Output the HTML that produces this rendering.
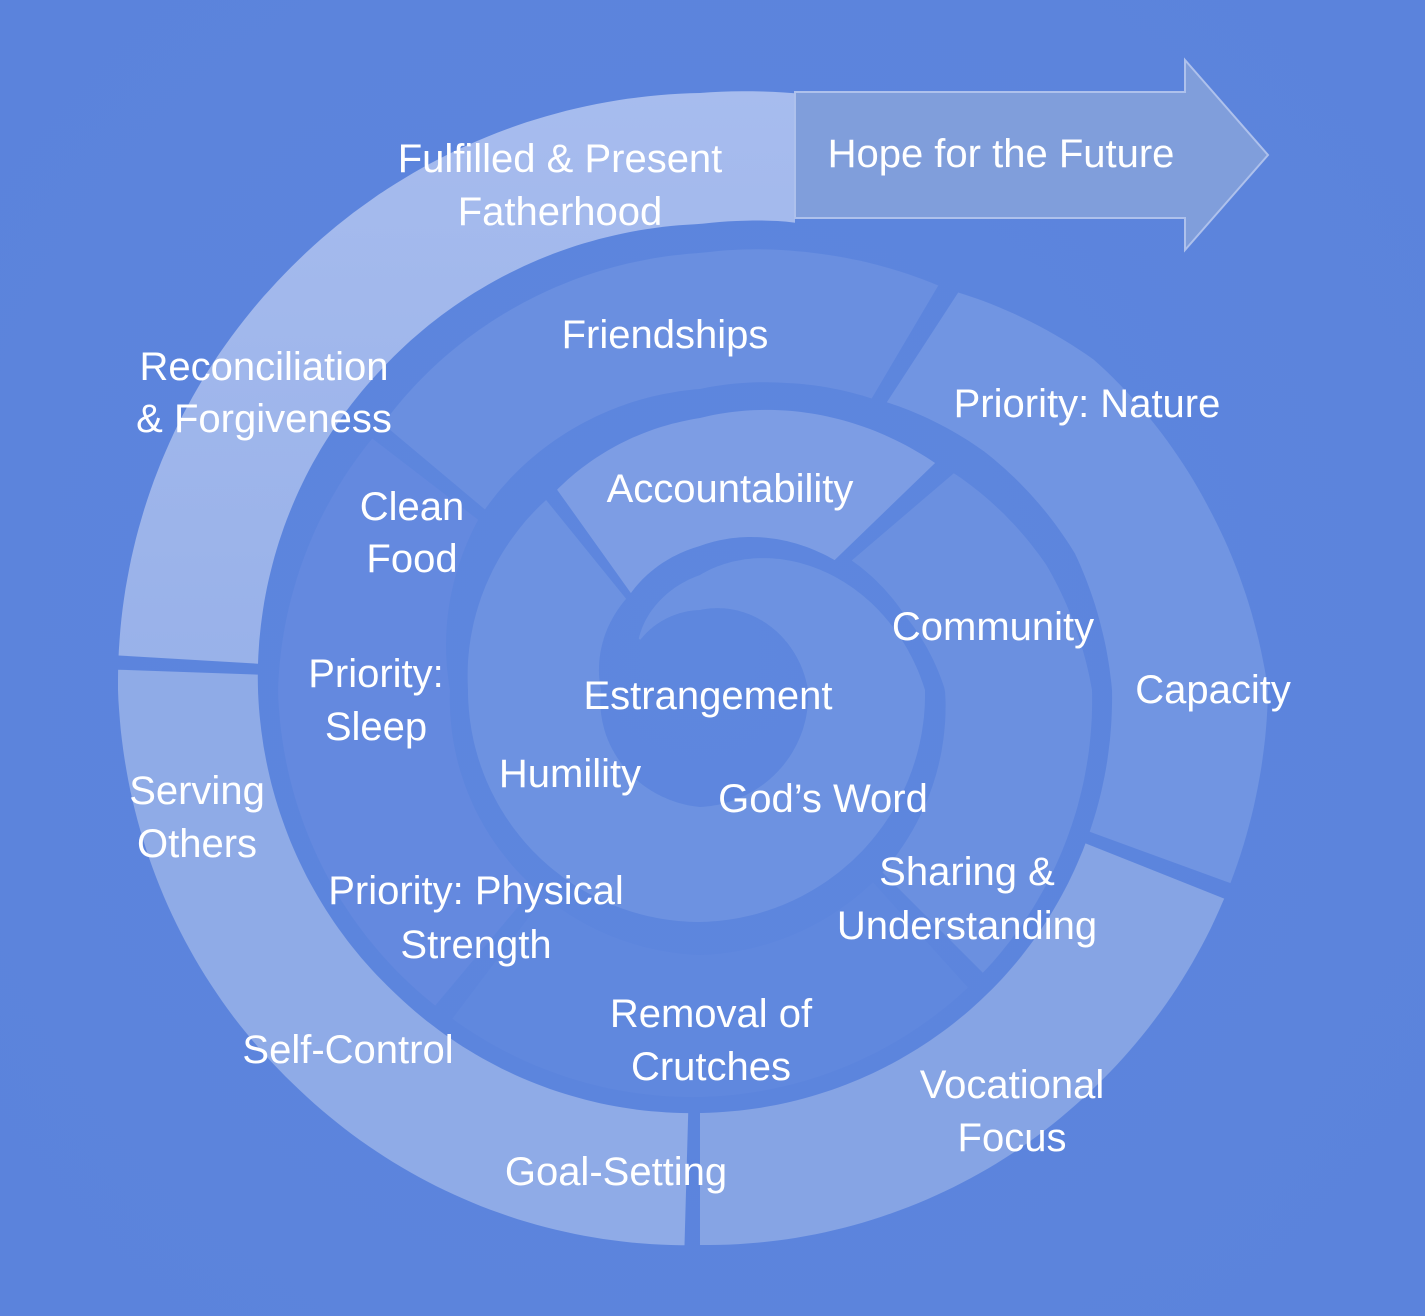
<!DOCTYPE html>
<html><head><meta charset="utf-8"><style>
html,body{margin:0;padding:0;background:#5d85dd;}
svg{display:block}
text{font-family:"Liberation Sans",Arial,sans-serif;font-size:40px;fill:#fff;text-anchor:middle;}
</style></head><body>
<svg id="s" width="1425" height="1316" viewBox="0 0 1425 1316" xmlns="http://www.w3.org/2000/svg">
<defs>
<linearGradient id="g1" x1="0" y1="90" x2="0" y2="690" gradientUnits="userSpaceOnUse">
<stop offset="0" stop-color="#a7bcee"/><stop offset="1" stop-color="#98b1e9"/></linearGradient>
<radialGradient id="bgG" cx="700" cy="650" r="900" gradientUnits="userSpaceOnUse">
<stop offset="0" stop-color="#5e87de"/><stop offset="1" stop-color="#5b83dc"/></radialGradient>
<clipPath id="c1"><rect x="0" y="0" width="795" height="1316"/></clipPath>
</defs>
<rect width="1425" height="1316" fill="url(#bgG)"/>
<g id="segs"></g>
<path d="M795,92 L1185,92 L1185,60 L1268,155 L1185,250 L1185,218 L795,218 Z" fill="#809edb" stroke="#aec1ec" stroke-width="2"/>
<text x="1001" y="167" >Hope for the Future</text>
<text x="560" y="172">Fulfilled &amp; Present</text>
<text x="560" y="225">Fatherhood</text>
<text x="264" y="380">Reconciliation</text>
<text x="264" y="432">&amp; Forgiveness</text>
<text x="665" y="348">Friendships</text>
<text x="1087" y="417">Priority: Nature</text>
<text x="412" y="520">Clean</text>
<text x="412" y="572">Food</text>
<text x="730" y="502">Accountability</text>
<text x="993" y="640">Community</text>
<text x="1213" y="703">Capacity</text>
<text x="376" y="687">Priority:</text>
<text x="376" y="740">Sleep</text>
<text x="708" y="709">Estrangement</text>
<text x="570" y="787">Humility</text>
<text x="823" y="812">God’s Word</text>
<text x="197" y="804">Serving</text>
<text x="197" y="857">Others</text>
<text x="967" y="885">Sharing &amp;</text>
<text x="967" y="939">Understanding</text>
<text x="476" y="904">Priority: Physical</text>
<text x="476" y="958">Strength</text>
<text x="711" y="1027">Removal of</text>
<text x="711" y="1080">Crutches</text>
<text x="348" y="1063">Self-Control</text>
<text x="1012" y="1098">Vocational</text>
<text x="1012" y="1151">Focus</text>
<text x="616" y="1185">Goal-Setting</text>
</svg>
<script>
(function(){
var S=[[-25,612,485],[-10,605,476],[0,597,466],[45,588,452],[90,582,442],[135,566,430],[180,555,423],[225,560,418],[270,568,412],[290,540,399],[310,514,371],[327,474,343],[329,470,339],[345,452,318],[360,437,301],[412,413,280],[450,422,250],[500,412,258],[540,407,265],[585,400,258],[630,392,245],[650,368,218],[671,333,199],[673,328,188],[720,272,144],[757,245,118],[810,232,99],[900,232,117],[990,225,108],[1080,115,80],[1130,80,78]];
function R(s){
 if(s<=S[0][0])return [S[0][1],S[0][2]];
 for(var i=0;i<S.length-1;i++){var a=S[i],b=S[i+1];
  if(s>=a[0]&&s<=b[0]){var t=(s-a[0])/(b[0]-a[0]);return [a[1]+(b[1]-a[1])*t,a[2]+(b[2]-a[2])*t];}}
 var l=S[S.length-1];return [l[1],l[2]];}
function P(s,r){var a=(-90-s)*Math.PI/180;return (700+r*Math.cos(a)).toFixed(1)+","+(690+r*Math.sin(a)).toFixed(1);}
function seg(s0,s1,fill,clip){
 var d="M"+P(s0,R(s0)[0]);var s;
 for(s=s0;s<=s1;s+=1){d+=" L"+P(s,R(s)[0]);}
 d+=" L"+P(s1,R(s1)[0]);
 d+=" L"+P(s1,R(s1)[1]);
 for(s=s1;s>=s0;s-=1){d+=" L"+P(s,R(s)[1]);}
 d+=" L"+P(s0,R(s0)[1])+" Z";
 var p=document.createElementNS("http://www.w3.org/2000/svg","path");
 p.setAttribute("d",d);p.setAttribute("fill",fill);
 if(clip)p.setAttribute("clip-path","url(#"+clip+")");
 document.getElementById("segs").appendChild(p);}
seg(-25,86.6,"url(#g1)","c1");
seg(88,178.4,"#8fabe7");
seg(180,248.3,"#86a4e4");
seg(250,327,"#7195e2");
seg(329.5,410,"#6a8fe0");
seg(412.5,500,"#6489df");
seg(503,582,"#6088de");
seg(585,670.5,"#6b90e0");
seg(674,755.5,"#7d9de4");
seg(759,1130,"#6d92e1");
})();
</script>
</body></html>
